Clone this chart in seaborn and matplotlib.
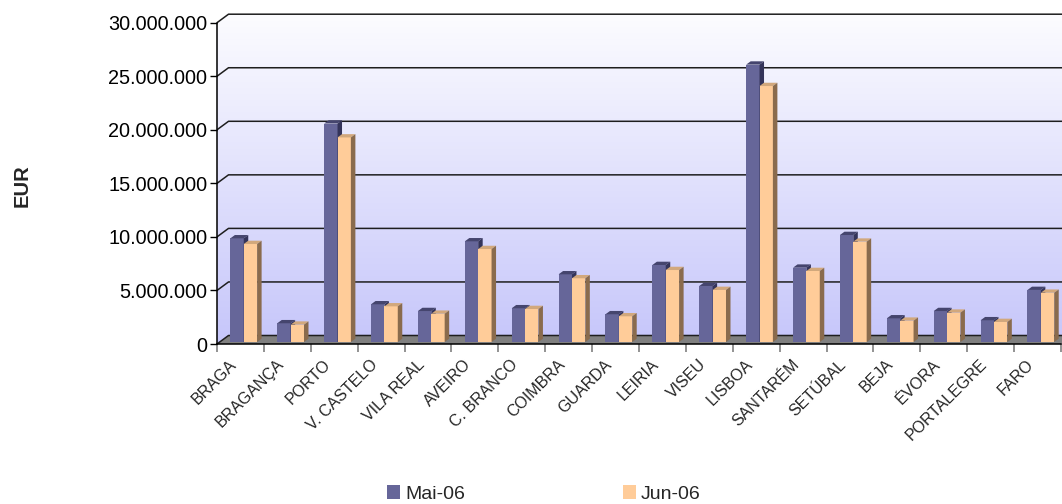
import numpy as np
import pandas as pd
import matplotlib
matplotlib.use("Agg")
import matplotlib.pyplot as plt
import seaborn as sns
from matplotlib.patches import Polygon, Patch
from matplotlib.ticker import FuncFormatter, FixedLocator
from matplotlib.colors import LinearSegmentedColormap
import matplotlib.transforms as mtrans

# ---------------- data ----------------
districts = ["BRAGA", "BRAGANÇA", "PORTO", "V. CASTELO", "VILA REAL", "AVEIRO",
             "C. BRANCO", "COIMBRA", "GUARDA", "LEIRIA", "VISEU", "LISBOA",
             "SANTARÉM", "SETÚBAL", "BEJA", "ÉVORA", "PORTALEGRE", "FARO"]
mai_06 = [9.68e6, 1.75e6, 20.4e6, 3.52e6, 2.89e6, 9.40e6,
          3.15e6, 6.32e6, 2.59e6, 7.19e6, 5.23e6, 25.9e6,
          6.94e6, 9.99e6, 2.21e6, 2.89e6, 2.03e6, 4.86e6]
jun_06 = [9.15e6, 1.62e6, 19.1e6, 3.33e6, 2.64e6, 8.68e6,
          3.08e6, 5.95e6, 2.40e6, 6.72e6, 4.86e6, 23.9e6,
          6.63e6, 9.37e6, 1.99e6, 2.74e6, 1.87e6, 4.60e6]
series = ["Mai-06", "Jun-06"]
y_ticks = [0, 5e6, 10e6, 15e6, 20e6, 25e6, 30e6]

front_colors = {"Mai-06": "#666699", "Jun-06": "#FFCC99"}
top_colors = {"Mai-06": "#45456E", "Jun-06": "#D2A87C"}
side_colors = {"Mai-06": "#34345A", "Jun-06": "#8A6B4D"}

n = len(districts)
df = pd.DataFrame({
    "Distrito": districts * 2,
    "Valor": mai_06 + jun_06,
    "Serie": [series[0]] * n + [series[1]] * n,
})

sns.set_style("white")
plt.rcParams["font.family"] = ["Liberation Sans", "DejaVu Sans"]

W, H = 1062, 504
fig = plt.figure(figsize=(W / 100, H / 100), dpi=100)
ax_l, ax_r, ax_b, ax_t = 217, 1061, 344, 22.7
ax = fig.add_axes([ax_l / W, 1 - ax_b / H, (ax_r - ax_l) / W, (ax_b - ax_t) / H])
ax.set_facecolor("none")

sns.barplot(data=df, x="Distrito", y="Valor", hue="Serie", palette=front_colors,
            hue_order=series, width=0.57, saturation=1, ax=ax, legend=False,
            linewidth=0, edgecolor="none")

x0, x1 = -0.5, n - 0.5
ymax = 30e6
ax.set_xlim(x0, x1)
ax.set_ylim(0, ymax)

px_cat = (ax_r - ax_l) / n
px_val = (ax_b - ax_t) / ymax
DX = 11.5 / px_cat
DY = 8.5 / px_val
SX = 3.3 / px_cat
SY = 2.0 / px_val
BDX = 4.5 / px_cat
BDY = 3.3 / px_val

# walls (gradient) clipped to 3D wall outline
wall_outline = [(x0, 0), (x0, ymax), (x0 + DX, ymax + DY), (x1 + DX, ymax + DY),
                (x1 + DX, DY), (x1, 0)]
clip_poly = Polygon(wall_outline, closed=True, transform=ax.transData,
                    facecolor="none", edgecolor="none")
cmap = LinearSegmentedColormap.from_list("wall", ["#C6C6FA", "#FCFCFF"])
grad = np.linspace(0, 1, 256).reshape(-1, 1)
im = ax.imshow(grad, cmap=cmap, origin="lower", aspect="auto",
               extent=(x0, x1 + DX, 0, ymax + DY), zorder=0.5, interpolation="bilinear")
im.set_clip_box(fig.bbox)
im.set_clip_path(clip_poly)

# floor
floor = Polygon([(x0, 0), (x1, 0), (x1 + DX, DY), (x0 + DX, DY)], closed=True,
                facecolor="#808080", edgecolor="none", zorder=1, clip_on=False)
ax.add_patch(floor)

# gridlines
for v in y_ticks:
    ax.plot([x0, x0 + DX, x1 + DX], [v, v + DY, v + DY], color="#1E1E1E",
            lw=1.1, zorder=1.5, clip_on=False, solid_capstyle="butt")

ax.set_xlim(x0, x1)
ax.set_ylim(0, ymax)

# 3D bar faces
for si, cont in enumerate(ax.containers):
    s = series[si]
    base_z = 5 + si
    for p in cont.patches:
        p.set_x(p.get_x() + SX)
        p.set_y(p.get_y() + SY)
        p.set_zorder(base_z)
        bx0 = p.get_x()
        bx1 = bx0 + p.get_width()
        yb = p.get_y()
        yt = yb + p.get_height()
        top = Polygon([(bx0, yt), (bx1, yt), (bx1 + BDX, yt + BDY), (bx0 + BDX, yt + BDY)],
                      closed=True, facecolor=top_colors[s], edgecolor="none",
                      zorder=base_z + 0.1, clip_on=False)
        side = Polygon([(bx1, yb), (bx1 + BDX, yb + BDY), (bx1 + BDX, yt + BDY), (bx1, yt)],
                       closed=True, facecolor=side_colors[s], edgecolor="none",
                       zorder=base_z + 0.2, clip_on=False)
        ax.add_patch(top)
        ax.add_patch(side)

# axes styling
for sp in ["top", "right"]:
    ax.spines[sp].set_visible(False)
for sp in ["left", "bottom"]:
    ax.spines[sp].set_color("black")
    ax.spines[sp].set_linewidth(1.1)
    ax.spines[sp].set_zorder(3)

ax.yaxis.set_major_locator(FixedLocator(y_ticks))
ax.yaxis.set_major_formatter(FuncFormatter(lambda v, pos: f"{int(round(v)):,}".replace(",", ".")))
ax.tick_params(axis="y", length=5, width=1, pad=2, labelsize=14.3, colors="black",
               direction="out", left=True)

ax.set_xticks(range(n))
ax.set_xticklabels(districts, rotation=45, ha="right", va="center",
                   rotation_mode="anchor", fontsize=11.5)
ax.tick_params(axis="x", which="major", length=0, pad=13)
ax.xaxis.set_minor_locator(FixedLocator(np.arange(x0, x1 + 0.01, 1.0)))
ax.tick_params(axis="x", which="minor", length=6, width=1.2, color="#808080",
               direction="out", bottom=True)
offset = mtrans.ScaledTranslation(-6 / 100, 0, fig.dpi_scale_trans)
for lab in ax.get_xticklabels():
    lab.set_transform(lab.get_transform() + offset)

ax.set_xlabel("")
ax.set_ylabel("")
fig.text(22 / W, 1 - 186 / H, "EUR", rotation=90, fontsize=14.5, fontweight="bold",
         ha="center", va="center")

handles = [Patch(facecolor=front_colors[s], edgecolor="none") for s in series]
fig.legend(handles=handles, labels=series, ncol=2, loc="center",
           bbox_to_anchor=(0.512, 1 - 494 / H), frameon=False, fontsize=14,
           handlelength=0.7, handleheight=0.7, handletextpad=0.25, columnspacing=8.1)

fig.savefig("out.png", dpi=100, facecolor="white")
